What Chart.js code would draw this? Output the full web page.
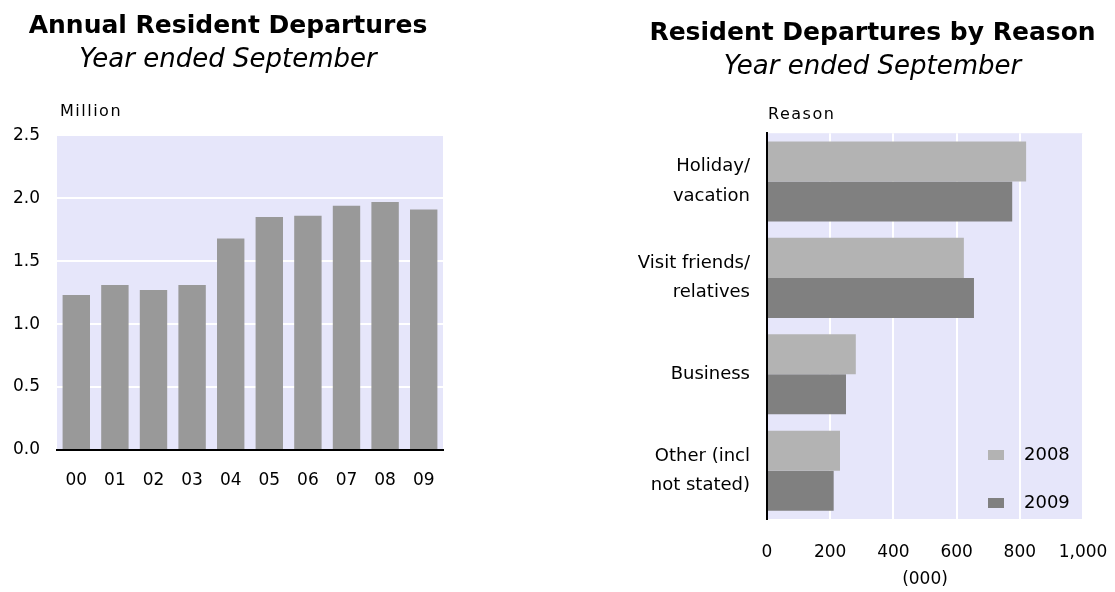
<!DOCTYPE html>
<html>
<head>
<meta charset="utf-8">
<script src="https://cdn.jsdelivr.net/npm/chart.js@4/dist/chart.umd.min.js"></script>
<style>
  html, body { margin: 0; padding: 0; background: #fff; }
  body { width: 1115px; height: 592px; position: relative; overflow: hidden; }
  .panel { position: absolute; top: 0; height: 592px; }
  #leftPanel { left: 0; width: 460px; }
  #rightPanel { left: 600px; width: 515px; }
</style>
</head>
<body>
<div class="panel" id="leftPanel"><canvas id="departuresChart"></canvas></div>
<div class="panel" id="rightPanel"><canvas id="reasonChart"></canvas></div>
<script>
/* Annual resident departures + departures by reason (year ended September). */
const YEARS = ["00", "01", "02", "03", "04", "05", "06", "07", "08", "09"];
const DEPARTURES_MILLION = [1.23, 1.31, 1.27, 1.31, 1.68, 1.85, 1.86, 1.94, 1.97, 1.91];

const REASONS = [["Holiday/", "vacation"], ["Visit friends/", "relatives"], "Business", ["Other (incl", "not stated)"]];
const REASON_2008 = [820, 623, 281, 231];
const REASON_2009 = [776, 655, 250, 211];
const SERIES_NAMES = ["2008", "2009"];

const COLORS = {
  plotBg: "#e6e6fa",
  bar: "#999999",
  y2008: "#b3b3b3",
  y2009: "#808080",
  text: "#000000",
};

Chart.defaults.font.family = "'DejaVu Sans', Verdana, sans-serif";
Chart.defaults.color = COLORS.text;
Chart.defaults.animation = false;

// fills the chart area and writes the small unit label above it
const plotBackground = {
  id: "plotBackground",
  beforeDraw(chart, _args, opts) {
    const { ctx, chartArea } = chart;
    ctx.save();
    ctx.fillStyle = COLORS.plotBg;
    ctx.fillRect(chartArea.left, chartArea.top, chartArea.right - chartArea.left, chartArea.bottom - chartArea.top);
    if (opts.unit) {
      ctx.fillStyle = COLORS.text;
      ctx.font = "16px 'DejaVu Sans'";
      ctx.letterSpacing = "1.5px";
      ctx.textBaseline = "middle";
      ctx.textAlign = "left";
      ctx.fillText(opts.unit, chartArea.left + opts.unitDx, chartArea.top - opts.unitDy);
    }
    ctx.restore();
  },
};

// legend sits inside the plot, bottom right
const insideLegend = {
  id: "insideLegend",
  afterDatasetsDraw(chart, _args, opts) {
    if (!opts.show) return;
    const { ctx, chartArea } = chart;
    ctx.save();
    ctx.font = "18px 'DejaVu Sans'";
    ctx.textBaseline = "middle";
    ctx.textAlign = "left";
    chart.data.datasets.forEach((ds, i) => {
      const y = chartArea.bottom - 64 + i * 48;
      const x = chartArea.right - 95;
      ctx.fillStyle = ds.backgroundColor;
      ctx.fillRect(x, y - 5, 16, 10);
      ctx.fillStyle = COLORS.text;
      ctx.fillText(ds.label, x + 36, y);
    });
    ctx.restore();
  },
};

// keep the edge tick labels from squeezing the plot
function noEdgePadding(scale) {
  scale.paddingLeft = 0;
  scale.paddingRight = 0;
}

new Chart(document.getElementById("departuresChart"), {
  type: "bar",
  data: {
    labels: YEARS,
    datasets: [{
      label: "Departures",
      data: DEPARTURES_MILLION,
      backgroundColor: COLORS.bar,
      borderWidth: 0,
      categoryPercentage: 1,
      barPercentage: 0.71,
    }],
  },
  options: {
    responsive: true,
    maintainAspectRatio: false,
    layout: { padding: { left: 13, right: 17, top: 0, bottom: 0 } },
    plugins: {
      legend: { display: false },
      tooltip: { enabled: false },
      title: {
        display: true,
        text: "Annual Resident Departures",
        font: { size: 25, weight: "bold" },
        padding: { top: 11, bottom: 1 },
      },
      subtitle: {
        display: true,
        text: "Year ended September",
        font: { size: 26, style: "italic", weight: "normal" },
        color: COLORS.text,
        padding: { top: 3, bottom: 59 },
      },
      plotBackground: { unit: "Million", unitDx: 3, unitDy: 23 },
      insideLegend: { show: false },
    },
    scales: {
      x: {
        grid: { display: false, drawTicks: false },
        border: { display: true, color: "#000", width: 2 },
        ticks: { font: { size: 17 }, padding: 20, maxRotation: 0 },
        afterFit(scale) {
          scale.height = 142;
          noEdgePadding(scale);
        },
      },
      y: {
        min: 0,
        max: 2.5,
        grid: { color: "#ffffff", lineWidth: 2, drawTicks: false },
        border: { display: false },
        ticks: {
          stepSize: 0.5,
          font: { size: 17 },
          padding: 17,
          callback: (v) => Number(v).toFixed(1),
        },
        afterFit(scale) { scale.width = 44; },
      },
    },
  },
  plugins: [plotBackground, insideLegend],
});

new Chart(document.getElementById("reasonChart"), {
  type: "bar",
  data: {
    labels: REASONS,
    datasets: [
      {
        label: SERIES_NAMES[0],
        data: REASON_2008,
        backgroundColor: COLORS.y2008,
        borderWidth: 0,
        categoryPercentage: 0.83,
        barPercentage: 1,
      },
      {
        label: SERIES_NAMES[1],
        data: REASON_2009,
        backgroundColor: COLORS.y2009,
        borderWidth: 0,
        categoryPercentage: 0.83,
        barPercentage: 1,
      },
    ],
  },
  options: {
    indexAxis: "y",
    responsive: true,
    maintainAspectRatio: false,
    layout: { padding: { left: 30, right: 0, top: 0, bottom: 0 } },
    plugins: {
      legend: { display: false },
      tooltip: { enabled: false },
      title: {
        display: true,
        text: "Resident Departures by Reason",
        font: { size: 25, weight: "bold" },
        padding: { top: 18, bottom: 1 },
      },
      subtitle: {
        display: true,
        text: "Year ended September",
        font: { size: 26, style: "italic", weight: "normal" },
        color: COLORS.text,
        padding: { top: 3, bottom: 50 },
      },
      plotBackground: { unit: "Reason", unitDx: 1, unitDy: 18 },
      insideLegend: { show: true },
    },
    scales: {
      x: {
        min: 0,
        max: 1000,
        grid: { color: "#ffffff", lineWidth: 2, drawTicks: false },
        border: { display: false },
        ticks: {
          stepSize: 200,
          font: { size: 17 },
          padding: 23,
          maxRotation: 0,
          callback: (v) => Number(v).toLocaleString("en-US"),
        },
        title: {
          display: true,
          text: "(000)",
          font: { size: 17 },
          padding: { top: 0, bottom: 2 },
        },
        afterFit(scale) {
          scale.height = 73;
          noEdgePadding(scale);
        },
      },
      y: {
        grid: { display: false, drawTicks: false },
        border: { display: true, color: "#000", width: 2 },
        ticks: { font: { size: 18, lineHeight: 1.65 }, padding: 17 },
        afterFit(scale) { scale.width = 137; },
      },
      // empty strip on the right so "1,000" has room and the title stays centred
      rightGap: {
        type: "linear",
        position: "right",
        grid: { display: false, drawTicks: false },
        border: { display: false },
        ticks: { display: false },
        afterFit(scale) { scale.width = 32; },
      },
    },
  },
  plugins: [plotBackground, insideLegend],
});
</script>
</body>
</html>
